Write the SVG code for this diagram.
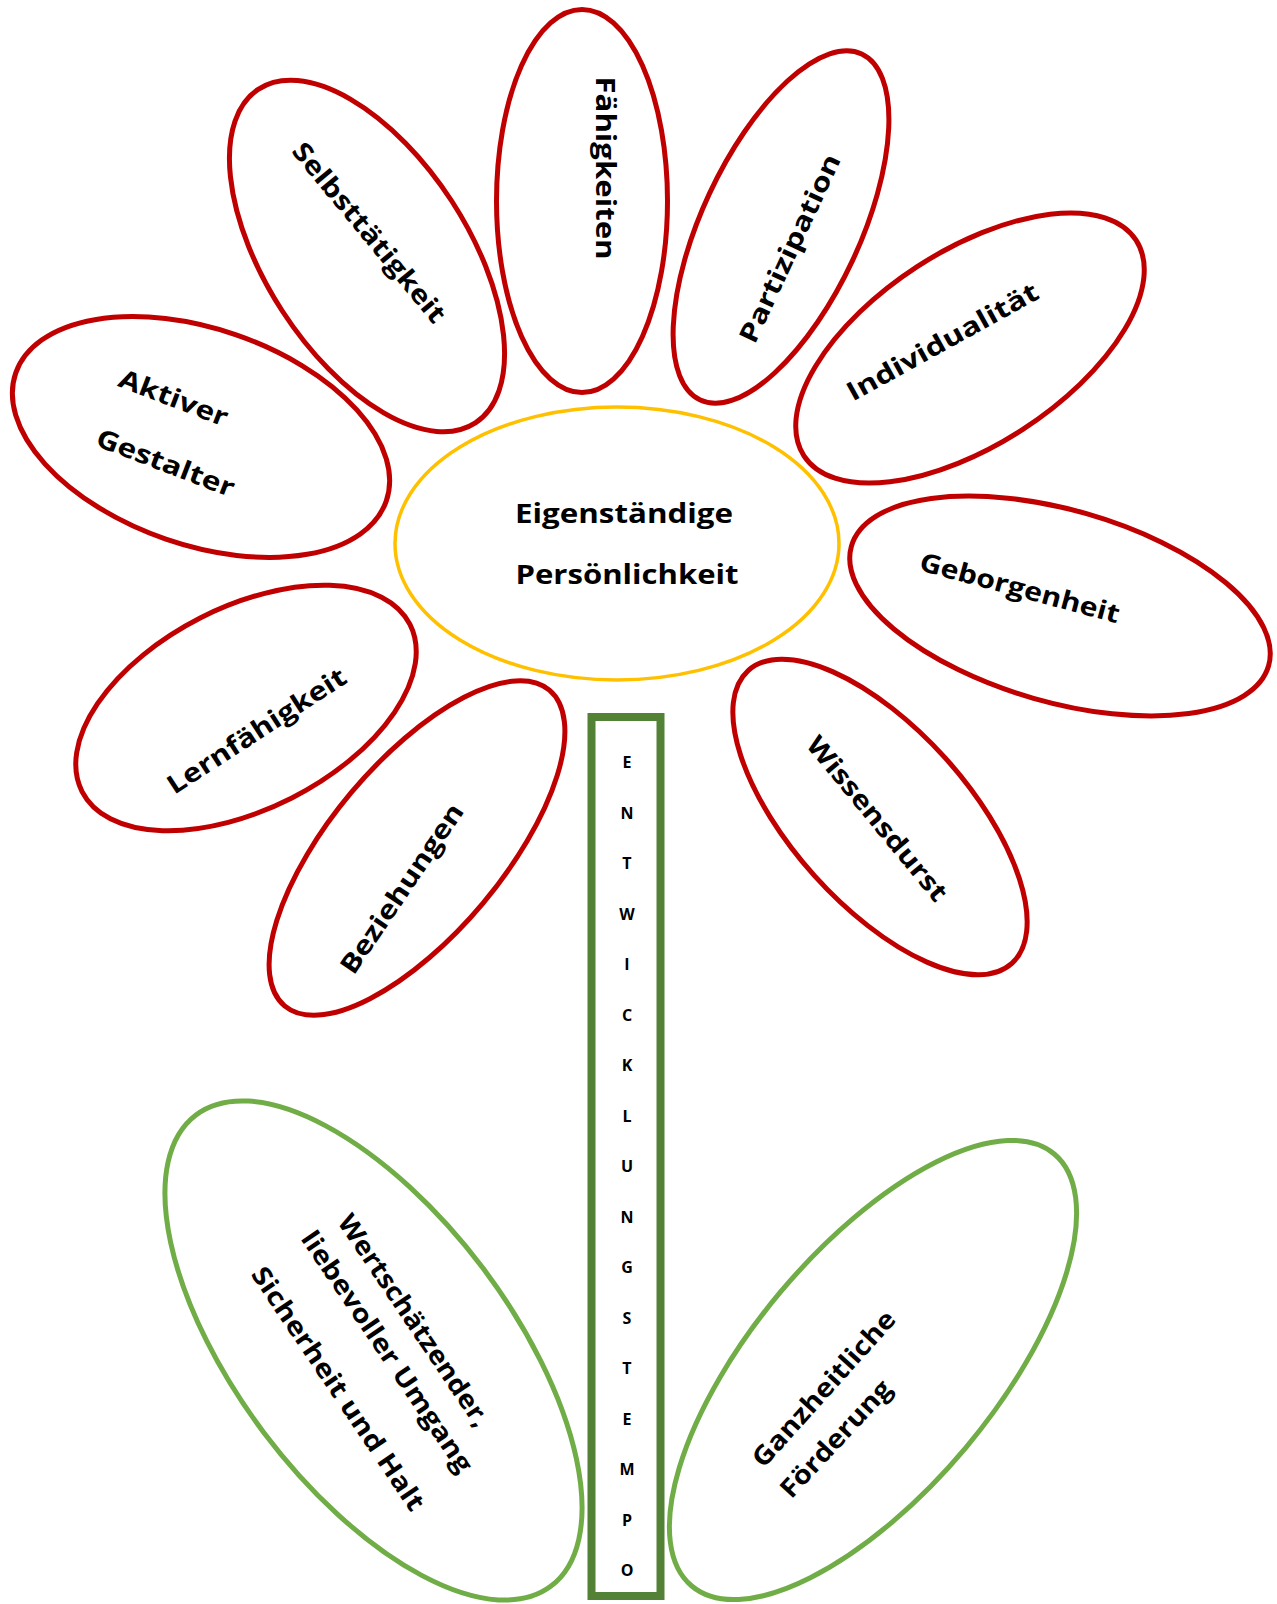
<svg xmlns="http://www.w3.org/2000/svg" width="1277" height="1604" viewBox="0 0 1277 1604">
<style>
.bg{fill:#ffffff}
.red{fill:none;stroke:#C00000;stroke-width:5}
.green{fill:none;stroke:#70AD47;stroke-width:5}
.core{fill:none;stroke:#FFC000;stroke-width:3.5}
.stem{fill:none;stroke:#538135;stroke-width:8}
.lbl{font-family:"Open Sans","DejaVu Sans",sans-serif;font-weight:700;font-size:26px;fill:#000;text-anchor:middle;dominant-baseline:central}
.lbs{font-family:"Open Sans","DejaVu Sans",sans-serif;font-weight:700;font-size:26px;fill:#000;text-anchor:middle}
.ltr{font-family:"Open Sans","Liberation Sans",sans-serif;font-weight:700;font-size:16px;fill:#000;text-anchor:middle}
</style>
<rect class="bg" x="0" y="0" width="1277" height="1604"/>

<g id="faehigkeiten">
<ellipse class="red" cx="582" cy="201" rx="85.5" ry="191.5"/>
<text class="lbl" transform="translate(606,168) rotate(90)" textLength="183" lengthAdjust="spacingAndGlyphs">Fähigkeiten</text>
</g>

<g id="selbsttaetigkeit">
<ellipse class="red" cx="0" cy="0" rx="199" ry="101" transform="translate(367,256) rotate(57)"/>
<text class="lbl" transform="translate(370,232) rotate(50.5)" textLength="225" lengthAdjust="spacingAndGlyphs">Selbsttätigkeit</text>
</g>

<g id="partizipation">
<ellipse class="red" cx="0" cy="0" rx="191" ry="79" transform="translate(781,227) rotate(-65)"/>
<text class="lbl" transform="translate(789,248) rotate(-65)" textLength="205" lengthAdjust="spacingAndGlyphs">Partizipation</text>
</g>

<g id="individualitaet">
<ellipse class="red" cx="0" cy="0" rx="198" ry="97" transform="translate(970,348) rotate(-33)"/>
<text class="lbl" transform="translate(942,341) rotate(-29)" textLength="215" lengthAdjust="spacingAndGlyphs">Individualität</text>
</g>

<g id="geborgenheit">
<ellipse class="red" cx="0" cy="0" rx="217" ry="96" transform="translate(1060,606) rotate(16)"/>
<text class="lbl" transform="translate(1020,587) rotate(15)" textLength="206" lengthAdjust="spacingAndGlyphs">Geborgenheit</text>
</g>

<g id="wissensdurst">
<ellipse class="red" cx="0" cy="0" rx="197" ry="88" transform="translate(880,817) rotate(48)"/>
<text class="lbl" transform="translate(878,818) rotate(50.5)" textLength="205" lengthAdjust="spacingAndGlyphs">Wissensdurst</text>
</g>

<g id="beziehungen">
<ellipse class="red" cx="0" cy="0" rx="206" ry="86" transform="translate(417,848) rotate(-50)"/>
<text class="lbl" transform="translate(401,888) rotate(-56)" textLength="199" lengthAdjust="spacingAndGlyphs">Beziehungen</text>
</g>

<g id="lernfaehigkeit">
<ellipse class="red" cx="0" cy="0" rx="184" ry="101" transform="translate(246,708) rotate(-27)"/>
<text class="lbl" transform="translate(256,730) rotate(-33)" textLength="208" lengthAdjust="spacingAndGlyphs">Lernfähigkeit</text>
</g>

<g id="aktiver-gestalter">
<ellipse class="red" cx="0" cy="0" rx="196" ry="108" transform="translate(201,437) rotate(19)"/>
<text class="lbl" transform="translate(174,397) rotate(21)" textLength="115" lengthAdjust="spacingAndGlyphs">Aktiver</text>
<text class="lbl" transform="translate(166,462) rotate(21)" textLength="146" lengthAdjust="spacingAndGlyphs">Gestalter</text>
</g>

<g id="eigenstaendige-persoenlichkeit">
<ellipse class="core" cx="617" cy="543.5" rx="222" ry="136.5"/>
<text class="lbs" x="624" y="523" textLength="218" lengthAdjust="spacingAndGlyphs">Eigenständige</text>
<text class="lbs" x="627" y="584" textLength="223" lengthAdjust="spacingAndGlyphs">Persönlichkeit</text>
</g>

<g id="wertschaetzender-umgang">
<ellipse class="green" cx="0" cy="0" rx="295" ry="137" transform="translate(373.5,1350.5) rotate(53)"/>
<text class="lbl" transform="translate(415,1320) rotate(56)" textLength="250" lengthAdjust="spacingAndGlyphs">Wertschätzender,</text>
<text class="lbl" transform="translate(388,1351) rotate(56)" textLength="285" lengthAdjust="spacingAndGlyphs">liebevoller Umgang</text>
<text class="lbl" transform="translate(339,1388) rotate(56)" textLength="288" lengthAdjust="spacingAndGlyphs">Sicherheit und Halt</text>
</g>

<g id="ganzheitliche-foerderung">
<ellipse class="green" cx="0" cy="0" rx="282" ry="121" transform="translate(873,1370) rotate(-50)"/>
<text class="lbl" transform="translate(823,1388) rotate(-48)" textLength="200" lengthAdjust="spacingAndGlyphs">Ganzheitliche</text>
<text class="lbl" transform="translate(835,1438) rotate(-47)" textLength="150" lengthAdjust="spacingAndGlyphs">Förderung</text>
</g>

<g id="stem-entwicklungstempo">
<rect class="stem" x="591.5" y="717" width="69" height="879"/>
<text class="ltr" x="627" y="768">E</text>
<text class="ltr" x="627" y="818.5">N</text>
<text class="ltr" x="627" y="869">T</text>
<text class="ltr" x="627" y="919.5">W</text>
<text class="ltr" x="627" y="970">I</text>
<text class="ltr" x="627" y="1020.5">C</text>
<text class="ltr" x="627" y="1071">K</text>
<text class="ltr" x="627" y="1121.5">L</text>
<text class="ltr" x="627" y="1172">U</text>
<text class="ltr" x="627" y="1222.5">N</text>
<text class="ltr" x="627" y="1273">G</text>
<text class="ltr" x="627" y="1323.5">S</text>
<text class="ltr" x="627" y="1374">T</text>
<text class="ltr" x="627" y="1424.5">E</text>
<text class="ltr" x="627" y="1475">M</text>
<text class="ltr" x="627" y="1525.5">P</text>
<text class="ltr" x="627" y="1576">O</text>
</g>
</svg>
